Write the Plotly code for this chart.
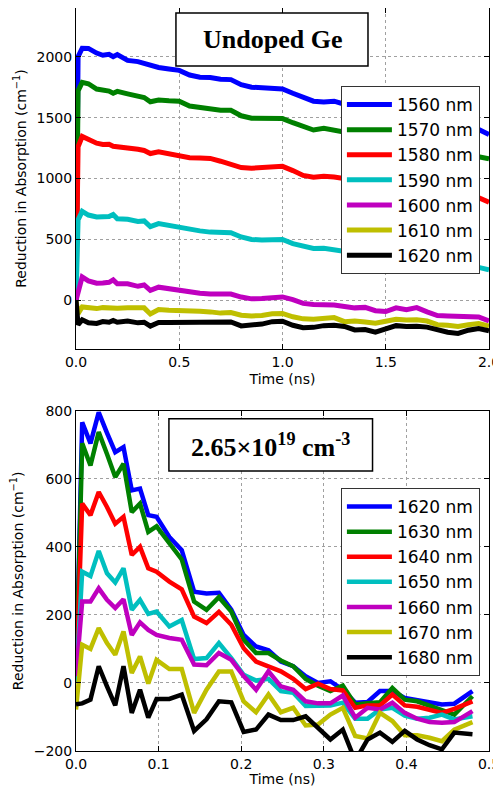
import plotly.graph_objects as go

# ---------------- data: top panel (Undoped Ge) ----------------
t_top = [0, 0.01, 0.03, 0.06, 0.1, 0.13, 0.16, 0.18, 0.2, 0.25, 0.3, 0.33, 0.36, 0.4, 0.45,
         0.5, 0.55, 0.6, 0.65, 0.7, 0.75, 0.8, 0.85, 0.9, 0.95, 1.0, 1.05, 1.1, 1.15, 1.2,
         1.25, 1.3, 1.35, 1.4, 1.45, 1.5, 1.55, 1.6, 1.65, 1.7, 1.75, 1.8, 1.85, 1.9, 1.95, 2.0]

top_labels = ["1560 nm", "1570 nm", "1580 nm", "1590 nm", "1600 nm", "1610 nm", "1620 nm"]

top_1560 = [0, 2000, 2070, 2068, 2030, 2012, 2020, 2000, 2018, 1970, 1960, 1945, 1925, 1912, 1900,
            1888, 1850, 1832, 1830, 1815, 1812, 1770, 1750, 1745, 1742, 1735, 1700, 1665, 1635, 1628,
            1635, 1610, 1590, 1570, 1550, 1530, 1510, 1490, 1470, 1455, 1440, 1430, 1420, 1412, 1402, 1361]
top_1570 = [0, 1720, 1790, 1778, 1735, 1730, 1718, 1700, 1715, 1695, 1680, 1665, 1630, 1645, 1638,
            1635, 1595, 1580, 1575, 1560, 1560, 1515, 1495, 1492, 1492, 1492, 1458, 1425, 1398, 1412,
            1396, 1385, 1370, 1350, 1335, 1320, 1300, 1280, 1265, 1250, 1235, 1220, 1210, 1195, 1183, 1161]
top_1580 = [0, 1260, 1345, 1320, 1290, 1280, 1282, 1265, 1262, 1255, 1240, 1230, 1205, 1220, 1205,
            1195, 1170, 1168, 1165, 1142, 1118, 1090, 1085, 1092, 1100, 1100, 1065, 1025, 1010, 1018,
            1012, 1000, 990, 980, 960, 940, 920, 900, 880, 865, 855, 850, 848, 845, 842, 806]
top_1590 = [0, 660, 730, 700, 685, 690, 688, 705, 670, 665, 648, 652, 605, 630, 615,
            600, 575, 570, 560, 555, 555, 520, 500, 495, 500, 500, 465, 440, 425, 428,
            415, 400, 385, 370, 355, 345, 335, 325, 315, 305, 298, 292, 285, 278, 270, 250]
top_1600 = [0, 80, 192, 160, 140, 142, 148, 168, 135, 135, 115, 126, 82, 108, 95,
            80, 68, 58, 52, 52, 52, 27, 12, 15, 25, 28, 5, -25, -35, -32,
            -38, -50, -62, -58, -85, -92, -62, -78, -60, -95, -125, -128, -130, -132, -136, -170]
top_1610 = [0, -110, -55, -62, -68, -60, -62, -70, -65, -62, -65, -62, -112, -75, -82,
            -88, -90, -90, -95, -105, -100, -122, -128, -125, -110, -108, -135, -152, -155, -145,
            -142, -175, -170, -178, -188, -172, -156, -162, -160, -170, -200, -205, -215, -200, -190, -212]
top_1620 = [0, -200, -160, -185, -190, -175, -180, -165, -180, -170, -185, -180, -212, -182, -183,
            -183, -184, -183, -182, -183, -178, -210, -205, -195, -175, -172, -205, -225, -222, -208,
            -205, -215, -243, -240, -262, -230, -208, -215, -212, -220, -245, -262, -272, -245, -232, -250]

# ---------------- data: bottom panel (2.65e19 cm^-3) ----------------
t_bot = [0, 0.0075, 0.0175, 0.0275, 0.0375, 0.0475, 0.0575, 0.0675, 0.0775, 0.0875, 0.0975,
         0.113, 0.128, 0.143, 0.158, 0.173, 0.188, 0.203, 0.218, 0.233, 0.248, 0.263, 0.278,
         0.293, 0.308, 0.323, 0.338, 0.353, 0.368, 0.383, 0.398, 0.413, 0.428, 0.443, 0.458, 0.48]

bot_labels = ["1620 nm", "1630 nm", "1640 nm", "1650 nm", "1660 nm", "1670 nm", "1680 nm"]

bot_1620 = [0, 766, 704, 795, 735, 678, 693, 566, 571, 493, 488, 429, 390, 268, 263, 265, 215, 141,
            107, 96, 63, 49, 20, 0, 5, -20, -58, -56, -24, -24, -44, -51, -58, -63, -61, -24]
bot_1630 = [0, 704, 639, 737, 673, 605, 644, 502, 527, 444, 460, 410, 363, 239, 215, 252, 210, 127,
            88, 88, 66, 49, 12, -8, -24, -8, -63, -60, -57, -15, -49, -54, -68, -81, -93, -39]
bot_1640 = [0, 527, 493, 561, 517, 468, 488, 376, 400, 337, 327, 298, 275, 195, 176, 209, 171, 102,
            63, 49, 34, 12, -18, -2, -18, -22, -73, -66, -66, -34, -66, -70, -78, -88, -76, -54]
bot_1650 = [0, 327, 314, 388, 322, 295, 337, 215, 244, 203, 210, 166, 185, 70, 73, 117, 73, 24,
            7, 12, -24, -29, -68, -68, -66, -58, -105, -105, -78, -73, -96, -105, -102, -93, -107, -98]
bot_1660 = [20, 239, 239, 278, 244, 220, 246, 141, 178, 156, 141, 132, 127, 54, 52, 88, 68, 20,
            -20, 34, -10, -20, -54, -60, -60, -37, -102, -73, -78, -58, -88, -105, -115, -117, -115, -83]
bot_1670 = [-78, 112, 100, 161, 117, 83, 151, 29, 78, -2, 68, 41, 41, -88, -20, 34, 34, -54,
            -86, -34, -86, -73, -125, -122, -93, -73, -156, -163, -88, -112, -154, -154, -161, -171, -137, -115]
bot_1680 = [-63, -60, -49, 49, -10, -66, 49, -88, -20, -102, -47, -47, -34, -141, -107, -54, -57, -144,
            -137, -93, -109, -109, -98, -132, -166, -137, -229, -166, -146, -173, -141, -166, -183, -195, -146, -151]

colors = ["#0000ff", "#008000", "#ff0000", "#00bfbf", "#bf00bf", "#bfbf00", "#000000"]

top_series = [top_1560, top_1570, top_1580, top_1590, top_1600, top_1610, top_1620]
bot_series = [bot_1620, bot_1630, bot_1640, bot_1650, bot_1660, bot_1670, bot_1680]

fig = go.Figure()
for name, ys, c in zip(top_labels, top_series, colors):
    fig.add_trace(go.Scatter(x=t_top, y=ys, mode="lines", name=name,
                             line=dict(color=c, width=5), xaxis="x", yaxis="y",
                             legend="legend"))
for name, ys, c in zip(bot_labels, bot_series, colors):
    fig.add_trace(go.Scatter(x=t_bot, y=ys, mode="lines", name=name,
                             line=dict(color=c, width=4.5), xaxis="x2", yaxis="y2",
                             legend="legend2"))

tick_font = dict(family="DejaVu Sans", size=14, color="black")
axis_common = dict(showline=True, linecolor="black", linewidth=1, mirror="ticks",
                   ticks="inside", ticklen=5, tickcolor="black", tickfont=tick_font,
                   showgrid=True, gridcolor="#a0a0a0", griddash="dot", gridwidth=1,
                   zeroline=False, automargin=False)
title_font = dict(family="DejaVu Sans", size=14, color="black")
ytitle = "Reduction in Absorption (cm<sup>\u22121</sup>)"

legend_common = dict(font=dict(family="DejaVu Sans", size=17, color="black"),
                     bgcolor="white", bordercolor="#333333", borderwidth=1,
                     itemwidth=45,
                     xanchor="right", yanchor="top", x=0.978)

# the page adds an 8 px body margin, so the figure is 8 px smaller on each axis
fig.update_layout(
    width=493, height=779,
    margin=dict(l=68, r=12, t=0, b=36, autoexpand=False),
    paper_bgcolor="white", plot_bgcolor="white",
    xaxis=dict(domain=[0, 1], anchor="y", range=[0, 2.0], dtick=0.5, tick0=0,
               tickformat=".1f", title=dict(text="Time (ns)", font=title_font, standoff=5),
               **axis_common),
    yaxis=dict(domain=[0.541, 1.0], anchor="x", range=[-400, 2400], dtick=500, tick0=0,
               title=dict(text=ytitle, font=title_font, standoff=6), **axis_common),
    xaxis2=dict(domain=[0, 1], anchor="y2", range=[0, 0.5], dtick=0.1, tick0=0,
                tickformat=".1f", title=dict(text="Time (ns)", font=title_font, standoff=2),
                **axis_common),
    yaxis2=dict(domain=[0, 0.458], anchor="x2", range=[-200, 800], dtick=200, tick0=0,
                title=dict(text=ytitle, font=title_font, standoff=6), **axis_common),
    legend=dict(y=0.895, **legend_common),
    legend2=dict(y=0.354, **legend_common),
    shapes=[
        dict(type="rect", xref="x domain", yref="y domain", x0=0.242, x1=0.707, y0=0.830, y1=0.985,
             line=dict(color="black", width=1.5), fillcolor="white", layer="above"),
        dict(type="rect", xref="x2 domain", yref="y2 domain", x0=0.225, x1=0.718, y0=0.823, y1=0.976,
             line=dict(color="black", width=1.5), fillcolor="white", layer="above"),
    ],
    annotations=[
        dict(text="<b>Undoped Ge</b>", xref="x domain", yref="y domain", x=0.475, y=0.907,
             showarrow=False, xanchor="center", yanchor="middle",
             font=dict(family="Liberation Serif", size=26, color="black")),
        dict(text="<b>2.65×10<sup>19</sup> cm<sup>-3</sup></b>", xref="x2 domain", yref="y2 domain",
             x=0.471, y=0.899, showarrow=False, xanchor="center", yanchor="middle",
             font=dict(family="Liberation Serif", size=26, color="black")),
    ],
)

fig.write_html("out.html")
